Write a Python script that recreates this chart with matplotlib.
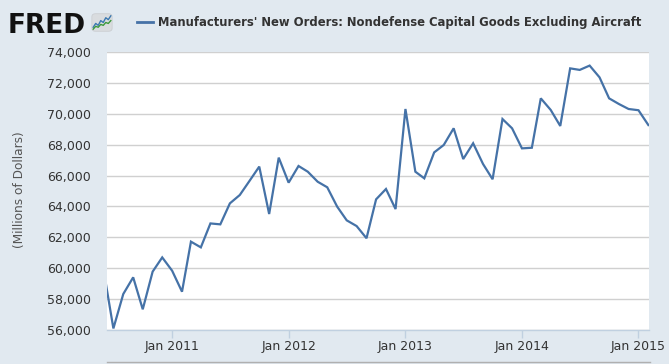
import pandas as pd
import numpy as np
from matplotlib import pyplot as plt
import matplotlib.dates as mdates
from matplotlib.ticker import MultipleLocator, FuncFormatter
from matplotlib.lines import Line2D
from matplotlib.patches import FancyBboxPatch

# monthly values, Jun 2010 .. Feb 2015 (millions of dollars)
start_month = '2010-06-01'
orders = [
    59800, 56100, 58330, 59410, 57340, 59780, 60700,
    59840, 58480, 61720, 61350, 62900, 62840, 64200, 64740, 65670, 66580, 63510, 67160,
    65540, 66620, 66250, 65600, 65240, 63990, 63100, 62730, 61940, 64460, 65130, 63830,
    70310, 66250, 65820, 67500, 67980, 69060, 67070, 68090, 66750, 65760, 69660, 69060,
    67760, 67800, 71000, 70250, 69210, 72940, 72840, 73120, 72360, 71000, 70630, 70310,
    70230, 69270,
]
series_name = "Manufacturers' New Orders: Nondefense Capital Goods Excluding Aircraft"
y_label = '(Millions of Dollars)'

# little logo sparkline
icon_blue = [0.25, 0.45, 0.35, 0.6, 0.5, 0.75, 0.65, 0.85]
icon_green = [0.15, 0.3, 0.25, 0.4, 0.35, 0.5, 0.45, 0.6]

bg = '#E1E9F0'
line_col = '#4572A7'
text_col = '#333333'

dates = pd.date_range(start_month, periods=len(orders), freq='MS')

W, H = 669, 364
fig = plt.figure(figsize=(W / 100, H / 100), dpi=100, facecolor=bg)

# main plot area
ax = fig.add_axes([107 / W, (H - 330) / H, (649 - 107) / W, (330 - 52) / H])
ax.set_facecolor('white')
ax.plot(dates, orders, color=line_col, lw=1.6, solid_joinstyle='miter')

ax.set_xlim(pd.Timestamp('2010-06-11'), pd.Timestamp('2015-02-03'))
ax.set_ylim(56000, 74000)

ax.yaxis.set_major_locator(MultipleLocator(2000))
ax.yaxis.set_major_formatter(FuncFormatter(lambda v, p: '{:,.0f}'.format(v)))
ax.grid(axis='y', color='#D0D0D0', lw=1)
ax.set_axisbelow(True)

ax.xaxis.set_major_locator(mdates.YearLocator(month=1, day=1))
ax.xaxis.set_major_formatter(mdates.DateFormatter('Jan %Y'))

for s in ['left', 'right', 'top']:
    ax.spines[s].set_visible(False)
ax.spines['bottom'].set_color('#C0D0E0')
ax.spines['bottom'].set_linewidth(1)

ax.tick_params(axis='x', direction='out', length=6, width=1, color='#C0D0E0',
               labelsize=9, labelcolor=text_col, pad=1.5)
ax.tick_params(axis='y', length=0, labelsize=9, labelcolor=text_col, pad=11.5)

fig.text(20 / W, 1 - 190 / H, y_label, rotation=90, ha='center', va='center',
         fontsize=8.7, color='#555555')

# bottom border line
fig.add_artist(Line2D([107 / W, 650 / W], [1 - 362 / H, 1 - 362 / H],
                      color='#B0B0B0', lw=1))

# header: FRED logo + legend
fig.text(8 / W, 1 - 33 / H, 'FRED', fontsize=19, fontweight='bold',
         family='DejaVu Sans', color='#111111', ha='left', va='baseline')
iax = fig.add_axes([91 / W, 1 - 32 / H, 22 / W, 19 / H])
iax.set_xlim(0, 1)
iax.set_ylim(0, 1)
iax.axis('off')
iax.add_patch(FancyBboxPatch((0.04, 0.04), 0.92, 0.92, boxstyle='round,pad=0,rounding_size=0.15',
                             facecolor='#D9DCDF', edgecolor='#C8CBCE', lw=0.5))
xs = np.linspace(0.1, 0.9, len(icon_blue))
iax.plot(xs, icon_blue, color='#3A78B0', lw=1)
iax.plot(xs, icon_green, color='#3C9A3C', lw=1)

fig.add_artist(Line2D([137 / W, 153 / W], [1 - 21.7 / H, 1 - 21.7 / H], color=line_col, lw=2))
fig.text(158 / W, 1 - 25.7 / H, series_name, fontsize=9.3, fontweight='bold',
         fontstretch='condensed', family='DejaVu Sans', color=text_col,
         ha='left', va='baseline')

plt.savefig('out.png', dpi=100, facecolor=bg)
